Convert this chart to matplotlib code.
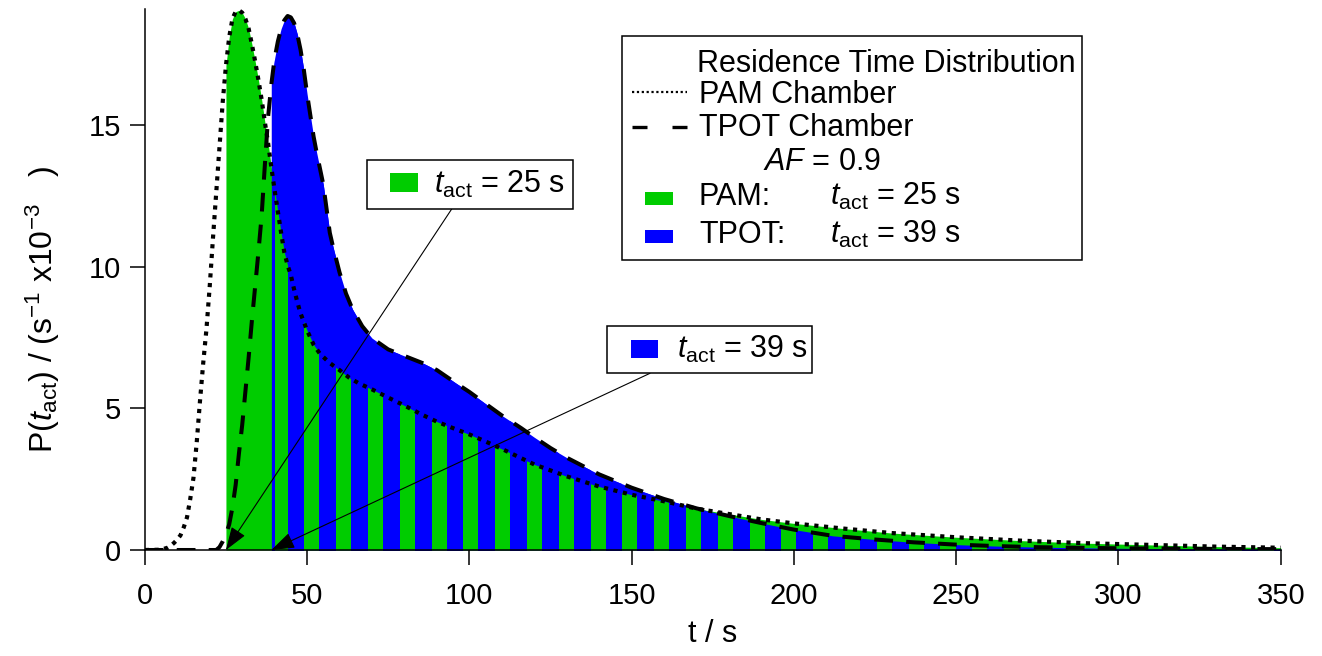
import numpy as np
import matplotlib
matplotlib.use('Agg')
import matplotlib.pyplot as plt
from matplotlib.patches import Rectangle
from matplotlib.path import Path
from matplotlib.lines import Line2D

# ---------------- data ----------------
pam_t = [0, 5, 7, 8, 9, 10, 11, 12, 13, 14, 15, 16, 17, 18, 19, 20, 21, 22, 23, 24,
         25, 26, 27, 28, 29, 30, 31, 32, 33, 34, 35, 36, 37, 38, 39, 40, 41, 42, 43,
         44, 45, 46, 47, 48, 50, 52, 54, 57, 60, 63, 66, 70, 75, 80, 85, 90, 95, 100,
         105, 110, 120, 130, 140, 150, 160, 170, 180, 190, 200, 215, 230, 250, 270,
         290, 310, 330, 350]
pam_v = [0, 0.01, 0.08, 0.15, 0.25, 0.37, 0.52, 0.8, 1.15, 1.8, 2.55, 3.8, 5.25, 6.6,
         7.8, 9.3, 11.0, 12.6, 14.2, 15.8, 17.1, 18.1, 18.75, 19.0, 19.05, 18.97,
         18.75, 18.4, 17.85, 17.25, 16.6, 15.9, 15.1, 14.35, 13.5, 12.7, 11.95, 11.2,
         10.5, 10.05, 9.7, 9.2, 8.75, 8.35, 7.75, 7.25, 6.92, 6.6, 6.35, 6.08, 5.88,
         5.67, 5.38, 5.1, 4.8, 4.53, 4.3, 4.08, 3.83, 3.57, 3.02, 2.6, 2.24, 1.95,
         1.72, 1.46, 1.27, 1.08, 0.94, 0.76, 0.6, 0.45, 0.33, 0.24, 0.18, 0.12, 0.08]

tpot_t = [0, 22, 23, 24, 25, 26, 27, 28, 29, 30, 31, 32, 33, 34, 35, 36, 37, 38, 39,
          40, 41, 42, 43, 44, 45, 46, 47, 48, 49, 50, 51, 52, 53, 54, 55, 56, 57, 58,
          60, 62, 64, 67, 70, 75, 80, 86, 90, 96, 100, 106, 110, 116, 120, 125, 130,
          140, 150, 160, 170, 180, 190, 200, 212, 225, 237, 250, 262, 275, 300, 325, 350]
tpot_v = [0, 0, 0.1, 0.3, 0.55, 0.9, 1.5, 2.3, 3.4, 4.4, 5.6, 6.8, 8.1, 9.3, 10.5,
          11.8, 13.6, 15.3, 16.45, 17.35, 17.95, 18.4, 18.7, 18.85, 18.8, 18.6, 18.2,
          17.65, 16.95, 16.1, 15.35, 14.6, 14.0, 13.45, 12.9, 12.05, 11.2, 10.7, 9.8,
          9.05, 8.5, 7.9, 7.48, 7.08, 6.85, 6.58, 6.35, 5.88, 5.58, 5.08, 4.75, 4.3,
          3.98, 3.6, 3.26, 2.67, 2.2, 1.8, 1.47, 1.2, 0.95, 0.72, 0.5, 0.37, 0.27,
          0.19, 0.14, 0.1, 0.06, 0.04, 0.03]

pam_tact = 25
tpot_tact = 39
af_value = 0.9

x_ticks = [0, 50, 100, 150, 200, 250, 300, 350]
y_ticks = [0, 5, 10, 15]

# ---------------- style ----------------
plt.rcParams['font.family'] = ['Liberation Sans', 'DejaVu Sans']
plt.rcParams['mathtext.fontset'] = 'custom'
plt.rcParams['mathtext.rm'] = 'Liberation Sans'
plt.rcParams['mathtext.it'] = 'Liberation Sans:italic'
plt.rcParams['mathtext.bf'] = 'Liberation Sans:bold'
plt.rcParams['lines.scale_dashes'] = False

GREEN = '#00CC00'
BLUE = '#0000FF'
FS_TICK = 21
FS_LAB = 22
FS_LEG = 22

W, H = 1322, 656
fig = plt.figure(figsize=(W / 100, H / 100), dpi=100)


def fx(px):
    return px / W


def fy(py):
    return 1 - py / H


L, R, T, B = 144.8, 1280.7, 9.3, 550.0
ax = fig.add_axes([fx(L), fy(B), fx(R) - fx(L), fy(T) - fy(B)])

pt = np.array(pam_t, float)
pv = np.array(pam_v, float)
tt = np.array(tpot_t, float)
tv = np.array(tpot_v, float)

# full fills
ax.fill_between(tt, 0, tv, where=tt >= tpot_tact, color=BLUE, lw=0, zorder=1)
ax.fill_between(pt, 0, pv, where=pt >= pam_tact, color=GREEN, lw=0, zorder=1.1)
# striped blue overlay
stripes = ax.fill_between(tt, 0, tv, where=tt >= tpot_tact, color=BLUE, lw=0, zorder=1.2)
period, width, start = 9.8, 5.15, 44.0
rects = [Path.unit_rectangle().transformed(
    matplotlib.transforms.Affine2D().scale(1.1, 30).translate(tpot_tact, -1))]
s = start
while s < 360:
    rects.append(Path.unit_rectangle().transformed(
        matplotlib.transforms.Affine2D().scale(width, 30).translate(s, -1)))
    s += period
clip = Path.make_compound_path(*rects)
stripes.set_clip_path(clip, ax.transData)

# curves
ax.plot(pt, pv, color='black', lw=3.0, dashes=(3.0, 4.0), dash_capstyle='butt',
        zorder=3)
ax.plot(tt, tv, color='black', lw=2.9, dashes=(13.5, 9.5), dash_capstyle='butt',
        zorder=3)

ax.set_xlim(0, 350)
ax.set_ylim(0, (B - T) / 28.33)
ax.set_xticks(x_ticks)
ax.set_yticks(y_ticks)
for sp in ['top', 'right']:
    ax.spines[sp].set_visible(False)
for sp in ['left', 'bottom']:
    ax.spines[sp].set_linewidth(1.1)
ax.tick_params(direction='out', length=10.8, width=1.1, labelsize=FS_TICK)
ax.tick_params(axis='x', pad=12)
ax.tick_params(axis='y', pad=6)

ax.set_xlabel('t / s', fontsize=FS_LAB)
ax.xaxis.set_label_coords(0.5, (B - 619) / (B - T))
ax.set_ylabel(r'P($t_{\mathrm{act}}$) / (s$^{\mathrm{-1}}$ x10$^{\mathrm{-3}}$   )',
              fontsize=23)
ax.yaxis.set_label_coords((62 - L) / (R - L), (B - 310) / (B - T))

# ---------------- legend (drawn manually) ----------------
def frect(x0, y0, x1, y1, **kw):
    r = Rectangle((fx(x0), fy(y1)), fx(x1) - fx(x0), fy(y0) - fy(y1),
                  transform=fig.transFigure, **kw)
    fig.patches.append(r)
    return r


def ftext(x, y, s, **kw):
    fig.text(fx(x), fy(y), s, fontsize=FS_LEG, va='baseline', ha='left', **kw)


frect(621.7, 36, 1081.7, 260, facecolor='white', edgecolor='black', lw=1.1, zorder=5)
ftext(696.7, 71.7, 'Residence Time Distribution', zorder=6)
fig.lines.append(Line2D([fx(631.7), fx(686.7)], [fy(91.7), fy(91.7)], color='black',
                        lw=1.6, dashes=(1.6, 1.9), transform=fig.transFigure, zorder=6))
ftext(699, 102.7, 'PAM Chamber', zorder=6)
fig.lines.append(Line2D([fx(631.7), fx(686.7)], [fy(126.7), fy(126.7)], color='black',
                        lw=2.4, dashes=(10.8, 18), dash_capstyle='butt',
                        transform=fig.transFigure, zorder=6))
ftext(699, 136, 'TPOT Chamber', zorder=6)
ftext(763, 170, r'$AF$ = %s' % af_value, zorder=6)
frect(645, 191.7, 673.3, 205, facecolor=GREEN, edgecolor='none', zorder=6)
ftext(699, 205, 'PAM:', zorder=6)
ftext(830, 205, r'$t_{\mathrm{act}}$ = %d s' % pam_tact, zorder=6)
frect(645, 230, 673.3, 243.3, facecolor=BLUE, edgecolor='none', zorder=6)
ftext(699, 243.3, 'TPOT:', zorder=6)
ftext(830, 243.3, r'$t_{\mathrm{act}}$ = %d s' % tpot_tact, zorder=6)

# ---------------- annotation boxes with arrows ----------------
arrow_kw = dict(arrowstyle='-|>,head_length=0.8,head_width=0.28', color='black',
                lw=0.8, mutation_scale=18, shrinkA=0, shrinkB=0)

frect(367, 160.5, 572.5, 209, facecolor='white', edgecolor='black', lw=1.1, zorder=5)
frect(390, 172.7, 418.3, 192.3, facecolor=GREEN, edgecolor='none', zorder=6)
ftext(434, 193.3, r'$t_{\mathrm{act}}$ = %d s' % pam_tact, zorder=6)
ax.annotate('', xy=(pam_tact, 0), xycoords='data', xytext=(fx(451.7), fy(209)),
            textcoords='figure fraction', arrowprops=arrow_kw, zorder=4)

frect(606.7, 326, 811.7, 373.3, facecolor='white', edgecolor='black', lw=1.1, zorder=5)
frect(630.7, 340, 658.3, 358.3, facecolor=BLUE, edgecolor='none', zorder=6)
ftext(677.3, 358.3, r'$t_{\mathrm{act}}$ = %d s' % tpot_tact, zorder=6)
ax.annotate('', xy=(tpot_tact, 0), xycoords='data', xytext=(fx(650), fy(373.3)),
            textcoords='figure fraction', arrowprops=arrow_kw, zorder=4)

fig.savefig('out.png', dpi=100)
